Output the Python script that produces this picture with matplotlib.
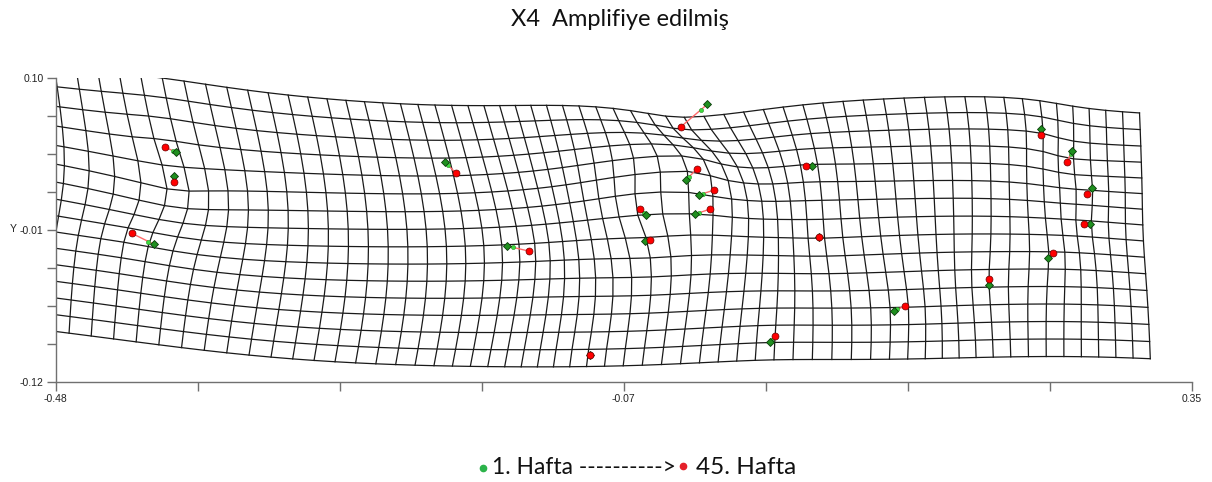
import numpy as np
import matplotlib
matplotlib.use("Agg")
from matplotlib import pyplot as plt
from matplotlib.lines import Line2D

# landmark coordinates, week 1 (reference) and week 45 (amplified target)
week1_x = [-0.3922, -0.3934, -0.4080, -0.1955, -0.1500, -0.0039, -0.0194, -0.0101,
           -0.0131, -0.0489, -0.0494, -0.0898, 0.0419, 0.0728, 0.0780, 0.1327,
           0.2021, 0.2399, 0.2628, 0.2770, 0.2757, 0.2448]
week1_y = [0.0466, 0.0294, -0.0204, 0.0393, -0.0216, 0.0811, 0.0263, 0.0154,
           0.0014, 0.0011, -0.0178, -0.1009, -0.0910, 0.0364, -0.0154, -0.0685,
           -0.0499, 0.0630, 0.0475, 0.0207, -0.0059, -0.0305]
week45_x = [-0.4000, -0.3934, -0.4243, -0.1874, -0.1339, -0.0231, -0.0116, 0.0013,
            -0.0017, -0.0530, -0.0457, -0.0898, 0.0456, 0.0682, 0.0780, 0.1406,
            0.2021, 0.2399, 0.2587, 0.2735, 0.2713, 0.2485]
week45_y = [0.0500, 0.0248, -0.0124, 0.0311, -0.0254, 0.0649, 0.0342, 0.0190,
            0.0052, 0.0054, -0.0175, -0.1009, -0.0866, 0.0364, -0.0154, -0.0651,
            -0.0455, 0.0591, 0.0391, 0.0163, -0.0059, -0.0269]
amplification = 4

xlim = (-0.48, 0.35)
ylim = (-0.12, 0.10)
xtick_labels = ["-0.48", "", "", "", "-0.07", "", "", "", "0.35"]
ytick_labels = ["-0.12", "", "", "", "-0.01", "", "", "", "0.10"]

# grid in reference space
grid_x = (-0.4643, 0.3217)
grid_y = (-0.1096, 0.0910)
n_cols, n_rows = 59, 15


def tps_kernel(r):
    with np.errstate(divide="ignore", invalid="ignore"):
        k = r ** 2 * np.log(r ** 2)
    return np.nan_to_num(k)


def tps_fit(src, dst):
    n = len(src)
    d = np.sqrt(((src[:, None, :] - src[None, :, :]) ** 2).sum(-1))
    P = np.hstack([np.ones((n, 1)), src])
    L = np.zeros((n + 3, n + 3))
    L[:n, :n] = tps_kernel(d)
    L[:n, n:] = P
    L[n:, :n] = P.T
    rhs = np.zeros((n + 3, 2))
    rhs[:n] = dst
    return np.linalg.solve(L, rhs)


def tps_apply(coef, src, pts):
    n = len(src)
    d = np.sqrt(((pts[:, None, :] - src[None, :, :]) ** 2).sum(-1))
    P = np.hstack([np.ones((len(pts), 1)), pts])
    return tps_kernel(d) @ coef[:n] + P @ coef[n:]


src = np.column_stack([week1_x, week1_y])
dst = np.column_stack([week45_x, week45_y])
coef = tps_fit(src, dst)

gx = np.linspace(grid_x[0], grid_x[1], n_cols + 1)
gy = np.linspace(grid_y[0], grid_y[1], n_rows + 1)
GX, GY = np.meshgrid(gx, gy)
warped = tps_apply(coef, src, np.column_stack([GX.ravel(), GY.ravel()]))
WX = warped[:, 0].reshape(GX.shape)
WY = warped[:, 1].reshape(GY.shape)

fig = plt.figure(figsize=(12.12, 4.82), dpi=100)
ax = fig.add_axes([0.0458, 0.2081, 0.9375, 0.6295])

for i in range(WX.shape[0]):
    ax.plot(WX[i], WY[i], color="#1a1a1a", lw=0.9)
for j in range(WX.shape[1]):
    ax.plot(WX[:, j], WY[:, j], color="#1a1a1a", lw=0.9)

# displacement vectors
true_x = src[:, 0] + (dst[:, 0] - src[:, 0]) / amplification
true_y = src[:, 1] + (dst[:, 1] - src[:, 1]) / amplification
for k in range(len(src)):
    ax.plot([src[k, 0], dst[k, 0]], [src[k, 1], dst[k, 1]], color="#ff6a6a", lw=1.0)
ax.plot(true_x, true_y, "o", ms=3, color="#3ddc3d", mec="#2a8a2a", mew=0.4, ls="none")
ax.plot(week1_x, week1_y, "D", ms=4.2, color="#1f8f1f", mec="#0a3a0a", mew=0.6, ls="none")
ax.plot(week45_x, week45_y, "o", ms=5, color="#ff0000", mec="#6a0000", mew=0.5, ls="none")

ax.set_xlim(*xlim)
ax.set_ylim(*ylim)
ax.set_xticks(np.linspace(xlim[0], xlim[1], len(xtick_labels)))
ax.set_xticklabels(xtick_labels)
ax.set_yticks(np.linspace(ylim[0], ylim[1], len(ytick_labels)))
ax.set_yticklabels(ytick_labels)
for side in ("top", "right"):
    ax.spines[side].set_visible(False)
for side in ("left", "bottom"):
    ax.spines[side].set_color("#707070")
    ax.spines[side].set_linewidth(1.0)
ax.tick_params(axis="both", colors="#707070", labelcolor="#222222", labelsize=7.5,
               length=6.5, width=1.0, direction="out",
               labelfontfamily="Liberation Sans")
ax.tick_params(axis="y", pad=2)
ax.tick_params(axis="x", pad=2)
fig.text(10 / 1212, 1 - 229 / 482, "Y", fontsize=7.5, family="Liberation Sans",
         color="#222222", va="center", ha="left")

fig.text(620 / 1212, 1 - 20 / 482, "X4  Amplifiye edilmiş", fontsize=17, family="Lato",
         ha="center", va="center", color="#111111")

# legend at the bottom
ly = 1 - 468 / 482
fig.add_artist(Line2D([483 / 1212], [ly], marker="o", ms=4.5, color="#2bb34a", ls="none"))
fig.add_artist(Line2D([683 / 1212], [ly + 0.004], marker="o", ms=4.5, color="#e5202a", ls="none"))
fig.text(492 / 1212, ly, "1. Hafta ---------->", fontsize=16.5, family="Lato",
         ha="left", va="center", color="#111111")
fig.text(696 / 1212, ly, "45. Hafta", fontsize=17.5, family="Lato",
         ha="left", va="center", color="#111111")

fig.savefig("out.png", dpi=100)
